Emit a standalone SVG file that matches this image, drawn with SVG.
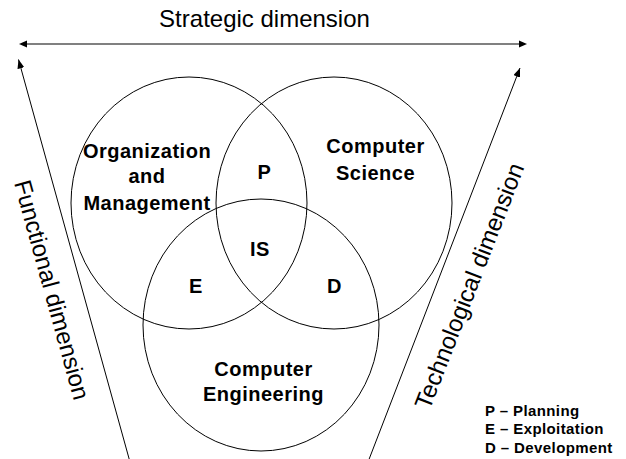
<svg xmlns="http://www.w3.org/2000/svg" width="626" height="459" viewBox="0 0 626 459">
<style>
.c{fill:none;stroke:#000;stroke-width:1}
.lbl{font-family:"Liberation Sans",Arial,sans-serif;font-weight:bold;font-size:20px;letter-spacing:0.5px;text-anchor:middle;fill:#000}
.dim{font-family:"Liberation Sans",Arial,sans-serif;font-size:24px;text-anchor:middle;fill:#000}
.leg{font-family:"Liberation Sans",Arial,sans-serif;font-weight:bold;font-size:15px;letter-spacing:0.4px;fill:#000}
.ax{fill:none;stroke:#000;stroke-width:1}
.head{fill:#000}
</style>
<defs>
<marker id="ah" markerUnits="userSpaceOnUse" markerWidth="10" markerHeight="8" refX="9" refY="3.5" orient="auto-start-reverse">
<path d="M0,0 L9,3.5 L0,7 z" fill="#000"/>
</marker>
</defs>
<rect width="626" height="459" fill="#fff"/>
<g id="connectors">
<line x1="27" y1="44" x2="519" y2="44" stroke="#808080" stroke-width="2"/>
<path class="head" d="M27,40.5 L19,44 L27,47.5 z"/>
<path class="head" d="M519,40.5 L527,44 L519,47.5 z"/>
<line class="ax" x1="130" y1="462" x2="18.5" y2="59.5" marker-end="url(#ah)"/>
<line class="ax" x1="368" y1="462" x2="520" y2="68" marker-end="url(#ah)"/>
</g>
<g id="title"><text class="dim" x="264.5" y="27">Strategic dimension</text></g>
<g id="functional"><text class="dim" transform="translate(44,292) rotate(74.6)">Functional dimension</text></g>
<g id="technological"><text class="dim" transform="translate(477,289) rotate(-68.7)">Technological dimension</text></g>
<g id="org">
<ellipse class="c" cx="189" cy="203" rx="118" ry="126"/>
<text class="lbl" x="147" y="158">Organization</text>
<text class="lbl" x="147" y="183">and</text>
<text class="lbl" x="147" y="210">Management</text>
</g>
<g id="cs">
<ellipse class="c" cx="334" cy="203" rx="118" ry="126"/>
<text class="lbl" x="375.5" y="153">Computer</text>
<text class="lbl" x="375.5" y="180">Science</text>
</g>
<g id="ce">
<ellipse class="c" cx="261" cy="325" rx="118" ry="126"/>
<text class="lbl" x="263.5" y="376">Computer</text>
<text class="lbl" x="263.5" y="401">Engineering</text>
</g>
<g id="p"><text class="lbl" x="264.5" y="179">P</text></g>
<g id="is"><text class="lbl" x="260" y="256">IS</text></g>
<g id="e"><text class="lbl" x="196" y="293">E</text></g>
<g id="d"><text class="lbl" x="334.5" y="293">D</text></g>
<g id="legend">
<text class="leg" x="485" y="416">P – Planning</text>
<text class="leg" x="485" y="434">E – Exploitation</text>
<text class="leg" x="485" y="453">D – Development</text>
</g>
</svg>
